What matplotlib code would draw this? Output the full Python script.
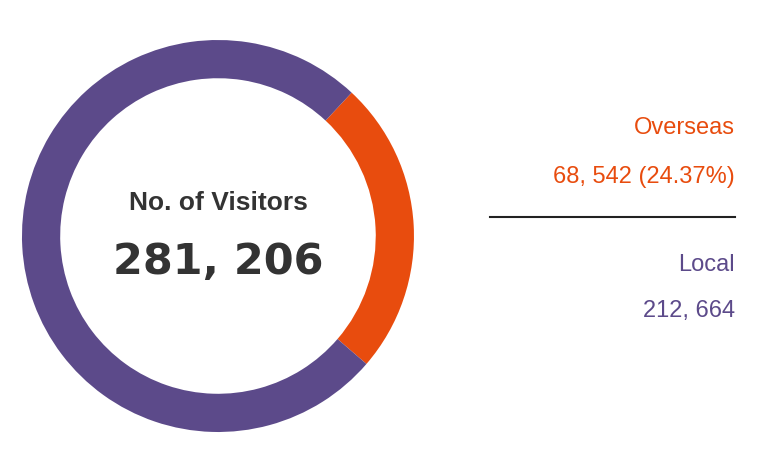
import matplotlib
matplotlib.use('Agg')
import matplotlib.pyplot as plt

labels = ['Overseas', 'Local']
visitors = [68542, 212664]
colors = ['#e84c0e', '#5c4a8a']

total = sum(visitors)
share = visitors[0] / total * 100

plt.rcParams['font.family'] = ['Liberation Sans', 'DejaVu Sans']

fig = plt.figure(figsize=(7.6, 4.74), dpi=100)
ax = fig.add_axes([0.0289, 0.0886, 0.5158, 0.827])
ax.pie(visitors, colors=colors, startangle=47, counterclock=False,
       radius=1.0, wedgeprops=dict(width=0.195, edgecolor='none'))
ax.set_aspect('equal')
ax.set_xlim(-1, 1)
ax.set_ylim(-1, 1)
ax.axis('off')

ax.text(0, 0.168, 'No. of Visitors', ha='center', va='center', fontsize=19,
        fontweight='bold', color='#333333')
ax.text(0, -0.133, f'{total:,}'.replace(',', ', '), ha='center', va='center',
        fontsize=31, fontweight='bold', color='#333333', family='DejaVu Sans')

# legend panel on the right
fx = 735 / 760
def fy(py):
    return 1 - py / 474

fig.text(fx, fy(128), labels[0], ha='right', va='center', fontsize=17, color=colors[0])
fig.text(fx, fy(177), f'{visitors[0]:,}'.replace(',', ', ') + f' ({share:.2f}%)',
         ha='right', va='center', fontsize=17, color=colors[0])
fig.add_artist(plt.Line2D([490 / 760, fx], [fy(217), fy(217)], color='#222222', lw=1.5))
fig.text(fx, fy(265), labels[1], ha='right', va='center', fontsize=17, color=colors[1])
fig.text(fx, fy(311), f'{visitors[1]:,}'.replace(',', ', '), ha='right', va='center',
         fontsize=17, color=colors[1])

fig.savefig('out.png', dpi=100)
